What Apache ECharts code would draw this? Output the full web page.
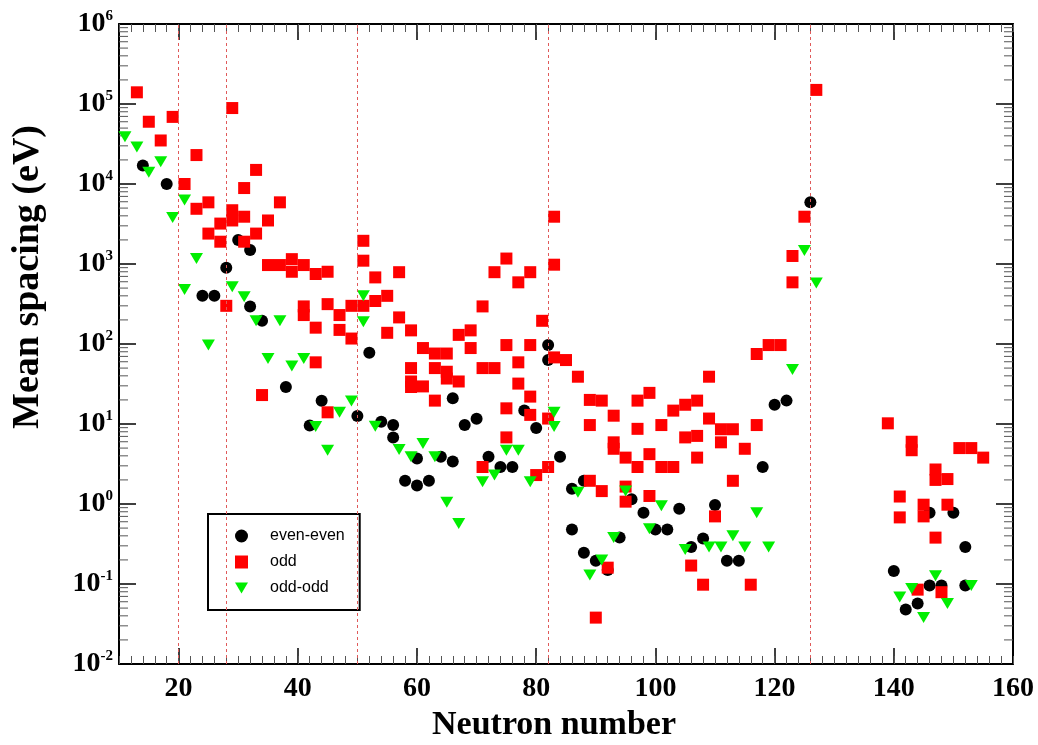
<!DOCTYPE html>
<html>
<head>
<meta charset="utf-8">
<script src="https://cdn.jsdelivr.net/npm/echarts@6/dist/echarts.min.js"></script>
<style>
  html, body { margin: 0; padding: 0; background: #fff; }
  #main { width: 1038px; height: 745px; }
</style>
</head>
<body>
<div id="main"></div>
<script>
// magic numbers (dashed lines)
var magicN = [20, 28, 50, 82, 126];
var xMajor = [20, 40, 60, 80, 100, 120, 140, 160];

// even-even
var evenN = [14, 18, 24, 26, 28, 30, 32, 32, 34, 38, 42, 44, 50, 52, 54, 56, 56, 58, 60, 60,
  62, 64, 66, 66, 68, 70, 72, 74, 76, 78, 80, 82, 82, 84, 86, 86, 88, 88, 90, 92,
  94, 96, 98, 100, 102, 104, 106, 108, 110, 112, 114, 118, 120, 122, 126, 140, 142, 144, 146, 146,
  148, 150, 152, 152];
var evenD = [1.7e4, 1e4, 400, 400, 900, 2000, 1500, 295, 195, 29, 9.6, 19.5, 12.6, 78, 10.7, 9.7, 6.8, 1.95, 3.7, 1.7,
  1.95, 3.9, 3.4, 21, 9.7, 11.6, 3.9, 2.9, 2.9, 14.7, 8.9, 97, 63, 3.9, 1.55, 0.48, 1.95, 0.245, 0.195, 0.15,
  0.38, 1.15, 0.78, 0.48, 0.48, 0.87, 0.29, 0.37, 0.97, 0.195, 0.195, 2.9, 17.4, 19.6, 5900, 0.145, 0.048, 0.057, 0.78, 0.096,
  0.096, 0.78, 0.29, 0.096];

// odd
var oddN = [13, 15, 17, 19, 21, 23, 23, 25, 25, 27, 27, 28, 29, 29, 29, 31, 31, 31, 33, 33,
  34, 35, 35, 37, 37, 39, 39, 41, 41, 41, 43, 43, 43, 45, 45, 45, 47, 47, 49, 49,
  51, 51, 51, 53, 53, 55, 55, 57, 57, 59, 59, 59, 59, 61, 61, 63, 63, 63, 65, 65,
  65, 67, 67, 69, 69, 71, 71, 71, 73, 73, 75, 75, 75, 75, 77, 77, 77, 79, 79, 79,
  79, 80, 81, 82, 82, 83, 83, 83, 85, 87, 89, 89, 89, 90, 91, 91, 92, 93, 93, 93,
  95, 95, 95, 97, 97, 97, 99, 99, 99, 101, 101, 103, 103, 105, 105, 106, 107, 107, 107, 108,
  109, 109, 110, 111, 111, 113, 113, 115, 116, 117, 117, 119, 121, 123, 123, 125, 127, 139, 141, 141,
  143, 143, 144, 145, 145, 147, 147, 147, 148, 149, 149, 151, 153, 155];
var oddD = [1.4e5, 6e4, 3.5e4, 6.9e4, 1e4, 2.3e4, 4900, 5900, 2400, 1900, 3200, 300, 8.9e4, 4700, 3500, 3900, 1900, 8900, 1.5e4, 2400,
  23, 3500, 970, 5900, 970, 1150, 800, 970, 295, 230, 750, 160, 59, 800, 315, 14, 230, 150, 300, 117,
  1950, 1100, 300, 680, 345, 400, 138, 790, 215, 148, 50, 34, 29, 89, 29.5, 76, 50, 19.6, 76, 45,
  37, 130, 34, 148, 89, 295, 50, 2.9, 790, 50, 1170, 97, 15.7, 6.8, 590, 59, 32, 790, 97, 22,
  13, 2.3, 195, 11.7, 2.9, 3900, 980, 68, 63, 39, 20, 9.7, 1.95, 0.038, 19.6, 1.45, 0.16, 12.7, 5.9, 4.9,
  3.8, 1.65, 1.07, 19.6, 8.7, 2.9, 24.5, 4.2, 1.26, 9.7, 2.9, 14.7, 2.9, 17.4, 6.8, 0.17, 19.6, 7.1, 3.8, 0.098,
  39, 11.7, 0.7, 8.6, 5.9, 8.6, 1.95, 4.9, 0.098, 75, 9.7, 97, 97, 1260, 590, 3900, 1.5e5, 10.2, 1.24, 0.68,
  6.0, 4.7, 0.085, 0.98, 0.7, 2.7, 2.0, 0.38, 0.079, 2.05, 0.98, 5.0, 5.0, 3.8];

// odd-odd
var ooN = [11, 13, 15, 17, 19, 21, 21, 23, 25, 29, 31, 33, 35, 37, 39, 41, 43, 45, 47, 49,
  51, 51, 53, 57, 59, 61, 63, 65, 67, 71, 73, 75, 77, 79, 83, 83, 87, 89, 91, 93,
  95, 99, 101, 105, 109, 111, 113, 115, 117, 119, 123, 125, 127, 141, 143, 145, 147, 149, 153];
var ooD = [3.9e4, 2.9e4, 1.4e4, 1.9e4, 3800, 6300, 480, 1170, 97, 520, 390, 195, 66, 195, 53, 66, 9.3, 4.7, 14, 19.4,
  400, 190, 9.4, 4.8, 3.9, 5.7, 3.9, 1.05, 0.57, 1.9, 2.3, 4.7, 4.7, 1.9, 14, 9.3, 1.4, 0.13, 0.2, 0.38,
  1.45, 0.49, 0.95, 0.27, 0.29, 0.29, 0.4, 0.29, 0.78, 0.29, 48, 1470, 580, 0.069, 0.088, 0.038, 0.127, 0.057, 0.096];

function pairs(xs, ys) {
  var out = [];
  for (var i = 0; i < xs.length; i++) out.push([xs[i], ys[i]]);
  return out;
}

// minor ticks of the log axis (2..9 in every decade)
var yMinor = [];
for (var k = -2; k < 6; k++) {
  for (var m = 2; m < 10; m++) yMinor.push([10, m * Math.pow(10, k)]);
}

var serif = '"Liberation Serif", "Times New Roman", serif';
var chart = echarts.init(document.getElementById('main'));

var option = {
  animation: false,
  backgroundColor: '#fff',
  grid: { left: 119, right: 25, top: 24, bottom: 81, containLabel: false },
  legend: {
    data: ['even-even', 'odd', 'odd-odd'],
    orient: 'vertical',
    left: 208,
    top: 514,
    itemWidth: 13,
    itemHeight: 13,
    itemGap: 10,
    padding: [14, 15, 14, 27],
    borderColor: '#000',
    borderWidth: 2,
    textStyle: { fontFamily: '"Liberation Sans", Arial, sans-serif', fontSize: 16, color: '#000', padding: [0, 0, 0, 17] }
  },
  xAxis: [
    {
      type: 'value', min: 10, max: 160, position: 'bottom',
      axisLine: { lineStyle: { color: '#000', width: 2 } },
      axisTick: { inside: true, length: 16, customValues: xMajor, lineStyle: { color: '#000', width: 1.5 } },
      axisLabel: { customValues: xMajor, margin: 11, fontFamily: serif, fontWeight: 'bold', fontSize: 28, color: '#000' },
      splitLine: { show: false }
    },
    {
      type: 'value', min: 10, max: 160, position: 'top',
      axisLine: { lineStyle: { color: '#000', width: 2 } },
      axisTick: { inside: true, length: 16, customValues: xMajor, lineStyle: { color: '#000', width: 1.5 } },
      axisLabel: { show: false },
      splitLine: { show: false }
    },
    {
      type: 'value', min: 10, max: 160, interval: 2, position: 'bottom',
      axisLine: { show: false },
      axisTick: { inside: true, length: 8, lineStyle: { color: '#555', width: 1 } },
      axisLabel: { show: false },
      splitLine: { show: false }
    },
    {
      type: 'value', min: 10, max: 160, interval: 2, position: 'top',
      axisLine: { show: false },
      axisTick: { inside: true, length: 8, lineStyle: { color: '#555', width: 1 } },
      axisLabel: { show: false },
      splitLine: { show: false }
    }
  ],
  yAxis: [
    {
      type: 'log', logBase: 10, min: 0.01, max: 1e6, splitNumber: 8, position: 'left',
      axisLine: { lineStyle: { color: '#000', width: 2 } },
      axisTick: { inside: true, length: 17, lineStyle: { color: '#000', width: 1.5 } },
      axisLabel: {
        margin: 6,
        formatter: function (v) {
          return '{b|10}{e|' + Math.round(Math.log10(v)) + '}';
        },
        rich: {
          b: { fontFamily: serif, fontWeight: 'bold', fontSize: 28, color: '#000', lineHeight: 30 },
          e: { fontFamily: serif, fontWeight: 'bold', fontSize: 15, color: '#000', verticalAlign: 'top', lineHeight: 15 }
        }
      },
      splitLine: { show: false }
    },
    {
      type: 'log', logBase: 10, min: 0.01, max: 1e6, splitNumber: 8, position: 'right',
      axisLine: { lineStyle: { color: '#000', width: 2 } },
      axisTick: { inside: true, length: 17, lineStyle: { color: '#000', width: 1.5 } },
      axisLabel: { show: false },
      splitLine: { show: false }
    }
  ],
  graphic: [
    {
      type: 'text', x: 28, y: 277, rotation: Math.PI / 2,
      style: { text: 'Mean spacing (eV)', textAlign: 'center', textVerticalAlign: 'middle',
        font: 'bold 38px ' + serif, fill: '#000' }
    },
    {
      type: 'text', x: 554, y: 725,
      style: { text: 'Neutron number', textAlign: 'center', textVerticalAlign: 'middle',
        font: 'bold 34px ' + serif, fill: '#000' }
    }
  ],
  series: [
    {
      name: 'minor',
      type: 'custom',
      silent: true,
      xAxisIndex: 0, yAxisIndex: 0,
      data: yMinor,
      encode: { x: 0, y: 1 },
      renderItem: function (params, api) {
        var a = api.coord([10, api.value(1)]);
        var b = api.coord([160, api.value(1)]);
        return {
          type: 'group',
          children: [
            { type: 'line', shape: { x1: a[0], y1: a[1], x2: a[0] + 9, y2: a[1] }, style: { stroke: '#555', lineWidth: 1 } },
            { type: 'line', shape: { x1: b[0] - 9, y1: b[1], x2: b[0], y2: b[1] }, style: { stroke: '#555', lineWidth: 1 } }
          ]
        };
      }
    },
    {
      name: 'even-even',
      type: 'scatter',
      symbol: 'circle',
      symbolSize: 12,
      itemStyle: { color: '#000', opacity: 1 },
      data: pairs(evenN, evenD),
      markLine: {
        silent: true,
        symbol: ['none', 'none'],
        label: { show: false },
        lineStyle: { color: '#e05a5a', type: [3, 3], width: 1 },
        data: magicN.map(function (n) { return { xAxis: n }; })
      }
    },
    {
      name: 'odd',
      type: 'scatter',
      symbol: 'rect',
      symbolSize: 12,
      itemStyle: { color: '#ff0000', opacity: 1 },
      data: pairs(oddN, oddD)
    },
    {
      name: 'odd-odd',
      type: 'scatter',
      symbol: 'path://M0,0L12,0L6,10Z',
      symbolSize: [13, 11],
      itemStyle: { color: '#00ee00', opacity: 1 },
      data: pairs(ooN, ooD)
    }
  ]
};
chart.setOption(option);
</script>
</body>
</html>
